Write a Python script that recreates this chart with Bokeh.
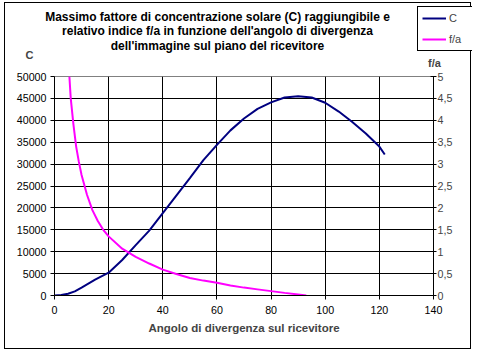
from bokeh.plotting import figure
from bokeh.layouts import column
from bokeh.models import (Range1d, LinearAxis, FixedTicker, Legend, LegendItem,
                          Label, CustomJSTickFormatter)
from bokeh.embed import file_html
from bokeh.resources import INLINE

# --- data ---
angle_c = [0, 2.5, 5, 7.5, 10, 15, 20, 25, 30, 35, 40, 45, 50, 55, 60, 65, 70,
           75, 80, 85, 90, 95, 100, 105, 110, 115, 120, 122]
c_values = [0, 100, 400, 950, 1800, 3600, 5200, 8100, 11500, 14800, 18800, 22800,
            26800, 30900, 34400, 37700, 40400, 42600, 44100, 45200, 45500, 45200,
            44000, 42000, 39600, 37000, 34000, 32200]
angle_fa = [5.5, 6, 7, 8, 9, 10, 12, 14, 16, 18, 20, 25, 30, 35, 40, 45, 50, 55,
            60, 65, 70, 75, 80, 85, 90, 93]
fa_values = [5.0, 4.5, 3.9, 3.4, 3.05, 2.75, 2.3, 1.95, 1.7, 1.5, 1.35, 1.07, 0.88,
             0.73, 0.59, 0.49, 0.40, 0.34, 0.29, 0.23, 0.18, 0.14, 0.10, 0.06,
             0.025, 0.0]
x_ticks = [0, 20, 40, 60, 80, 100, 120, 140]
c_ticks = [0, 5000, 10000, 15000, 20000, 25000, 30000, 35000, 40000, 45000, 50000]
fa_ticks = [0, 0.5, 1, 1.5, 2, 2.5, 3, 3.5, 4, 4.5, 5]

title_lines = ["Massimo fattore di concentrazione solare (C) raggiungibile e",
               "relativo indice f/a in funzione dell'angolo di divergenza",
               "dell'immagine sul piano del ricevitore"]
x_title = "Angolo di divergenza sul ricevitore"
series_names = ["C", "f/a"]
series_colors = ["#000080", "#FF00FF"]

FONT = "Liberation Sans"
TICK_SIZE = "10.7px"
W = 467

# ---------- header (title, axis names, legend) ----------
# the header's ranges lie far away from the data, so the proxy lines used
# only for the legend entries fall outside its (clipped) frame
h = figure(width=W, height=67, output_backend="svg", toolbar_location=None,
           x_axis_type=None, y_axis_type=None, min_border=0,
           x_range=Range1d(-1001, -1000), y_range=Range1d(-1001, -1000))
h.frame_align = False
h.outline_line_color = None
h.background_fill_color = "white"
h.border_fill_color = "white"

for t, y in zip(title_lines, [54, 40, 25]):
    h.add_layout(Label(x=212, y=y, x_units="screen", y_units="screen", text=t,
                       text_align="center", text_baseline="middle",
                       text_font=FONT, text_font_size="12px",
                       text_font_style="bold", text_color="black"))
h.add_layout(Label(x=24, y=16, x_units="screen", y_units="screen", text=series_names[0],
                   text_align="center", text_baseline="middle", text_font=FONT,
                   text_font_size="11px", text_font_style="bold"))
h.add_layout(Label(x=429, y=8, x_units="screen", y_units="screen", text=series_names[1],
                   text_align="center", text_baseline="middle", text_font=FONT,
                   text_font_size="11px", text_font_style="bold"))

d_c = h.line(angle_c, c_values, line_color=series_colors[0], line_width=2)
d_fa = h.line(angle_fa, fa_values, line_color=series_colors[1], line_width=2)
legend = Legend(items=[LegendItem(label=series_names[0], renderers=[d_c]),
                       LegendItem(label=series_names[1], renderers=[d_fa])],
                location=(412, 19), orientation="vertical",
                border_line_color="black", border_line_width=1, border_line_alpha=1,
                background_fill_color="white", background_fill_alpha=1,
                label_text_font=FONT, label_text_font_size="11px",
                glyph_width=24, glyph_height=14, label_height=14,
                label_standoff=3, spacing=7, padding=4, margin=0)
h.add_layout(legend, "center")

# ---------- main chart ----------
p = figure(width=W, height=280, output_backend="svg", toolbar_location=None,
           x_range=Range1d(0, 140), y_range=Range1d(0, 50000),
           min_border_left=49, min_border_right=39, min_border_top=7,
           min_border_bottom=54)
p.frame_align = False
p.background_fill_color = "white"
p.border_fill_color = "white"
p.outline_line_color = "#808080"
p.outline_line_width = 1

p.extra_y_ranges = {"fa": Range1d(0, 5)}

p.xaxis.ticker = FixedTicker(ticks=x_ticks)
p.yaxis.ticker = FixedTicker(ticks=c_ticks)
for ax in [p.xaxis[0], p.yaxis[0]]:
    ax.axis_line_color = "black"
    ax.major_tick_line_color = "black"
    ax.major_tick_in = 0
    ax.major_tick_out = 4
    ax.minor_tick_line_color = None
    ax.major_label_text_font = FONT
    ax.major_label_text_font_size = TICK_SIZE
    ax.major_label_text_color = "black"
p.yaxis.major_label_standoff = 4
p.yaxis.formatter = CustomJSTickFormatter(code="return tick.toFixed(0);")
p.xaxis.major_label_standoff = 6
p.xaxis.axis_label = x_title
p.xaxis.axis_label_text_font = FONT
p.xaxis.axis_label_text_font_size = "11.5px"
p.xaxis.axis_label_text_font_style = "bold"
p.xaxis.axis_label_standoff = 5

ra = LinearAxis(y_range_name="fa", ticker=FixedTicker(ticks=fa_ticks))
ra.formatter = CustomJSTickFormatter(code="return tick.toString().replace('.', ',');")
ra.axis_line_color = "black"
ra.major_tick_line_color = "black"
ra.major_tick_in = 3
ra.major_tick_out = 3
ra.minor_tick_line_color = None
ra.major_label_standoff = 1
ra.major_label_text_font = FONT
ra.major_label_text_font_size = TICK_SIZE
p.add_layout(ra, "right")

p.xgrid.ticker = FixedTicker(ticks=x_ticks[1:-1])
p.ygrid.ticker = FixedTicker(ticks=c_ticks[1:-1])
p.xgrid.grid_line_color = "black"
p.ygrid.grid_line_color = "black"

p.line(angle_c, c_values, line_color=series_colors[0], line_width=2)
p.line(angle_fa, fa_values, line_color=series_colors[1], line_width=2, y_range_name="fa")

h.styles = {"border-top": "1px solid black", "border-left": "1px solid black",
            "border-right": "1px solid black"}
p.styles = {"border-bottom": "1px solid black", "border-left": "1px solid black",
            "border-right": "1px solid black"}

layout = column(h, p, spacing=0)
layout.margin = (2, 0, 0, 4)

open("out.html", "w").write(file_html(layout, INLINE))
